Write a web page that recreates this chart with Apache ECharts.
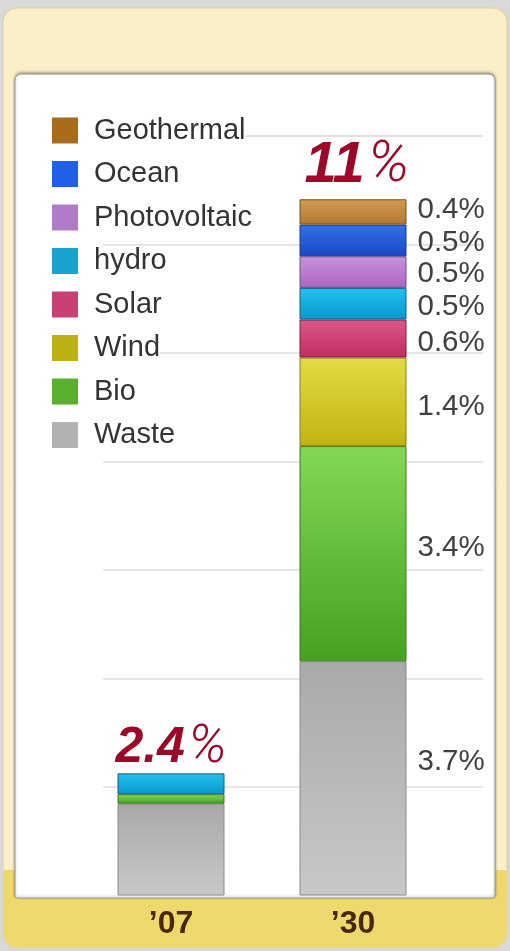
<!DOCTYPE html>
<html>
<head>
<meta charset="utf-8">
<script src="https://cdn.jsdelivr.net/npm/echarts@6/dist/echarts.min.js"></script>
<style>
html,body{margin:0;padding:0;background:#d9d9d9;}
#chart{width:510px;height:951px;}
</style>
</head>
<body>
<div id="chart"></div>
<script>
// ---- data ----
const categories = ['\u201907', '\u201930'];
const seriesNames = ['Waste', 'Bio', 'Wind', 'Solar', 'hydro', 'Photovoltaic', 'Ocean', 'Geothermal'];
const waste = [1.45, 3.7];
const bio = [0.15, 3.4];
const wind = [0, 1.4];
const solar = [0, 0.6];
const hydro = [0.33, 0.5];
const photovoltaic = [0, 0.5];
const ocean = [0, 0.5];
const geothermal = [0, 0.4];
const totals = ['2.4', '11'];
const axisMax = 12;
const gridSteps = 7;

const values = [waste, bio, wind, solar, hydro, photovoltaic, ocean, geothermal];
// [top, bottom, border, legend]
const palette = [
  ['#a9a9a9', '#c8c8c8', '#8a8a8a', '#b2b2b2'],
  ['#84d656', '#46a222', '#3c7a1e', '#58b02e'],
  ['#e2dc44', '#c2b212', '#8a8010', '#bdb015'],
  ['#da5a8a', '#c02c60', '#7e2040', '#c84074'],
  ['#22c2ee', '#0898cc', '#10607e', '#18a4cc'],
  ['#ca92da', '#a866c0', '#6e4e80', '#b07cc8'],
  ['#3470e4', '#1848c8', '#183890', '#2060e6'],
  ['#d29a52', '#b07830', '#6e5020', '#a86c1c']
];
const labelOffsets = [[0, -17], [0, -6], [0, 5], [0, 4], [0, 3], [0, 2], [0, 2], [0, -2]];
const totalStyles = [
  { n: 50, p: 54, distance: -2, offset: [0, 0] },
  { n: 58, p: 58, distance: 4, offset: [4, 0] }
];

const chart = echarts.init(document.getElementById('chart'));

const series = seriesNames.map((name, i) => ({
  name: name,
  type: 'bar',
  stack: 'total',
  xAxisIndex: 1,
  yAxisIndex: 1,
  barWidth: 107,
  itemStyle: {
    color: new echarts.graphic.LinearGradient(0, 0, 0, 1, [
      { offset: 0, color: palette[i][0] },
      { offset: 1, color: palette[i][1] }
    ]),
    borderColor: palette[i][2],
    borderWidth: 1
  },
  label: { show: false },
  data: values[i].map((v, j) => {
    if (v === 0) return '-';
    if (j === 1) {
      return {
        value: v,
        label: {
          show: true,
          position: 'right',
          distance: 11,
          offset: labelOffsets[i],
          formatter: '{c}%',
          fontSize: 29.5,
          fontFamily: 'Liberation Sans, Arial, sans-serif',
          color: '#404040'
        }
      };
    }
    return v;
  })
}));

series.push({
  name: 'Total',
  type: 'bar',
  stack: 'total',
  xAxisIndex: 1,
  yAxisIndex: 1,
  barWidth: 107,
  itemStyle: { color: 'rgba(0,0,0,0)', borderWidth: 0 },
  data: totals.map((t, j) => ({
    value: 0,
    label: {
      show: true,
      position: 'top',
      distance: totalStyles[j].distance,
      offset: totalStyles[j].offset,
      formatter: '{n|' + t + '}{p|%}',
      rich: {
        n: { fontSize: totalStyles[j].n, fontWeight: 'bold', fontStyle: 'italic', color: '#9a0a28', fontFamily: 'Liberation Sans, Arial, sans-serif' },
        p: { fontSize: totalStyles[j].p, fontWeight: 300, fontStyle: 'italic', color: '#9a0a28', fontFamily: 'Roboto, sans-serif', padding: [0, 0, 0, 3] }
      }
    }
  }))
});

const legendOrder = seriesNames.slice().reverse();

const option = {
  animation: false,
  graphic: [
    { type: 'rect', z: -10, shape: { x: 3, y: 8, width: 504, height: 940, r: 14 },
      style: { fill: '#fbefc7', stroke: '#d8cfa8', lineWidth: 1 } },
    { type: 'rect', z: -9, shape: { x: 3.5, y: 870, width: 503, height: 77.5, r: [0, 0, 14, 14] },
      style: { fill: '#efd96c' } },
    { type: 'rect', z: -8, shape: { x: 15, y: 74, width: 480, height: 824, r: [6, 6, 3, 3] },
      style: { fill: '#ffffff', stroke: '#9a9a9a', lineWidth: 1, shadowBlur: 3, shadowColor: 'rgba(0,0,0,0.35)', shadowOffsetY: -1 } }
  ],
  legend: {
    orient: 'vertical',
    left: 52,
    top: 116,
    padding: 0,
    itemWidth: 26,
    itemHeight: 26,
    itemGap: 14.5,
    icon: 'rect',
    selectedMode: false,
    textStyle: {
      fontSize: 29,
      color: '#333333',
      fontFamily: 'Liberation Sans, Arial, sans-serif',
      backgroundColor: '#ffffff',
      padding: [0, 0, 0, 11]
    },
    data: legendOrder.map(n => ({
      name: n,
      itemStyle: { color: palette[seriesNames.indexOf(n)][3], borderWidth: 0 }
    }))
  },
  grid: [
    { left: 103, right: 27, top: 136, bottom: 55.5 },
    { left: 80, right: 66, top: 136, bottom: 55.5 }
  ],
  xAxis: [
    { gridIndex: 0, type: 'value', min: 0, max: 1, show: false },
    {
      gridIndex: 1, type: 'category', data: categories,
      axisLine: { show: false }, axisTick: { show: false },
      axisLabel: { margin: 13, fontSize: 32, fontWeight: 'bold', color: '#4a2708', fontFamily: 'Liberation Sans, Arial, sans-serif' }
    }
  ],
  yAxis: [
    {
      gridIndex: 0, type: 'value', min: 0, max: axisMax, interval: axisMax / gridSteps,
      axisLine: { show: false }, axisTick: { show: false }, axisLabel: { show: false },
      splitLine: { show: true, showMinLine: false, lineStyle: { color: '#dedede', width: 1.5 } }
    },
    { gridIndex: 1, type: 'value', min: 0, max: axisMax, show: false, splitLine: { show: false } }
  ],
  series: series
};

chart.setOption(option);
</script>
</body>
</html>
